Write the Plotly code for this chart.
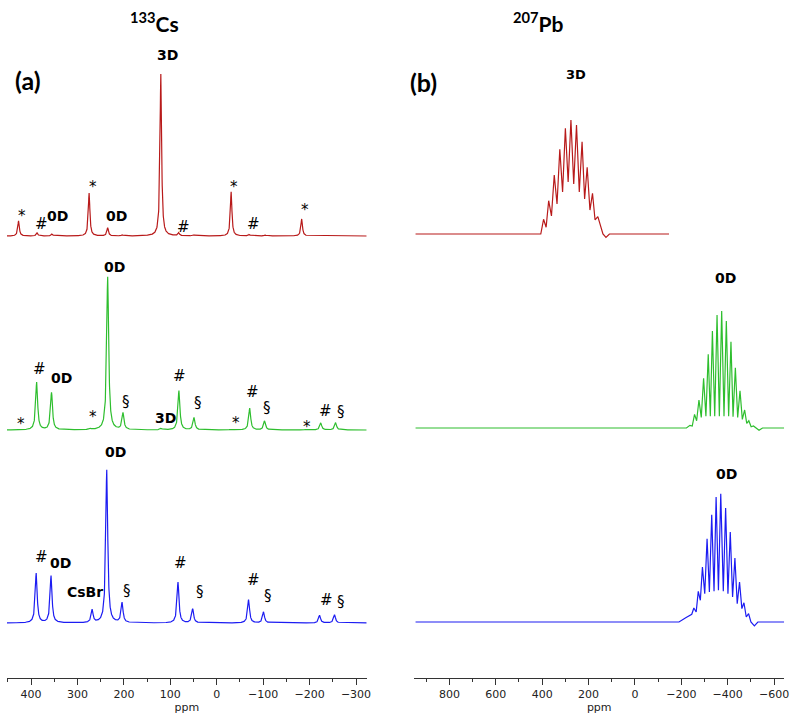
import numpy as np
import plotly.graph_objects as go

# ---------------- 133Cs spectra: peak tables ----------------
cs_red_pos = [427, 387, 355, 275, 235, 204, 120.5, 82, 50, -31, -70, -104, -183]
cs_red_int = [0.093, 0.019, 0.012, 0.265, 0.05, 0.006, 1.0, 0.019, 0.006, 0.272, 0.009, 0.006, 0.105]
cs_red_fwhm = 4.0

cs_green_pos = [421, 388, 356, 273, 235, 202, 120, 81.5, 49, -32, -71, -103, -192, -224, -256]
cs_green_int = [0.004, 0.312, 0.244, 0.007, 1.0, 0.109, 0.01, 0.257, 0.08, 0.005, 0.142, 0.059, 0.004, 0.046, 0.048]
cs_green_fwhm = 5.0

cs_blue_pos = [389, 357, 268.5, 237, 204, 83.5, 52, -68.6, -100.7, -221.5, -253.7]
cs_blue_int = [0.325, 0.307, 0.083, 1.0, 0.131, 0.266, 0.092, 0.152, 0.072, 0.05, 0.054]
cs_blue_fwhm = 5.0

cs_ppm_range = [452, -323]

# ---------------- 207Pb spectra: peak / valley points ----------------
pb_red_ppm = [946, 406, 394, 383, 372, 360, 348, 336, 324, 312, 300, 288, 276, 264, 252,
              240, 228, 217, 206, 194, 183, 172, 160, 138, 125, 110, -147]
pb_red_int = [0, 0, 0.129, 0.059, 0.292, 0.158, 0.518, 0.263, 0.743, 0.368, 0.927, 0.456, 1.0, 0.439, 0.956,
              0.368, 0.81, 0.307, 0.585, 0.21, 0.357, 0.123, 0.152, 0, -0.03, 0, 0]

pb_green_ppm = [946, -222, -237, -247, -257, -266, -276, -286, -296, -306, -316, -325, -334, -344,
                -354, -364, -374, -384, -394, -404, -414, -423, -433, -443, -453, -463, -473, -482,
                -491, -501, -511, -522, -535, -550, -644]
pb_green_int = [0, 0, 0.023, 0.017, 0.117, 0.062, 0.239, 0.091, 0.425, 0.1, 0.63, 0.1, 0.829, 0.1,
                0.966, 0.1, 1.0, 0.1, 0.915, 0.1, 0.738, 0.097, 0.515, 0.091, 0.319, 0.074, 0.154, 0.04,
                0.062, 0.011, 0.017, 0, -0.02, 0, 0]

pb_blue_ppm = [946, -190, -219, -233, -245, -254, -264, -273, -282, -291, -301, -311, -321, -331,
               -341, -350, -360, -370, -381, -391, -401, -411, -421, -431, -441, -451, -461, -470,
               -480, -490, -500, -515, -530, -644]
pb_blue_int = [0, 0, 0.034, 0.05, 0.06, 0.109, 0.078, 0.239, 0.169, 0.429, 0.221, 0.649, 0.234, 0.836,
               0.239, 0.974, 0.247, 1.0, 0.239, 0.888, 0.221, 0.701, 0.195, 0.499, 0.143, 0.312, 0.104, 0.15,
               0.039, 0.065, 0.0, -0.03, 0, 0]

pb_ppm_range = [951, -643]

# ---------------- Peak labels ----------------
cs_red_labels = ["*", "#", "<b>0D</b>", "*", "<b>0D</b>", "<b>3D</b>", "#", "*", "#", "*"]
cs_red_label_ppm = [420, 378, 343, 266, 216, 107, 72, -38, -79, -191]
cs_red_label_y = [0.146, 0.074, 0.123, 0.325, 0.123, 1.117, 0.057, 0.325, 0.074, 0.185]

cs_green_labels = ["*", "#", "<b>0D</b>", "*", "<b>0D</b>", "§", "<b>3D</b>", "#", "§", "*", "#", "§", "*", "#", "§"]
cs_green_label_ppm = [421, 382, 334, 266, 221, 196, 111, 80, 41, -41, -77, -109, -194, -234, -267]
cs_green_label_y = [0.065, 0.399, 0.338, 0.109, 1.067, 0.185, 0.076, 0.353, 0.178, 0.07, 0.246, 0.146, 0.044, 0.124, 0.116]

cs_blue_labels = ["#", "<b>0D</b>", "<b>CsBr</b>", "<b>0D</b>", "§", "#", "§", "#", "§", "#", "§"]
cs_blue_label_ppm = [378, 336, 284, 218, 194, 78, 37, -79, -111, -236, -268]
cs_blue_label_y = [0.433, 0.39, 0.2, 1.12, 0.211, 0.39, 0.2, 0.281, 0.178, 0.15, 0.139]

pb_labels = ["<b>3D</b>", "<b>0D</b>", "<b>0D</b>"]
pb_label_ppm = [253, -390, -394]
pb_label_y = [1.395, 1.28, 1.151]

# ---------------- Styling / layout constants ----------------
W, H = 800, 723
RED, GREEN, BLUE = "#B81A1A", "#2EBE2E", "#1C1CF2"
YLO = -0.2
# (baseline pixel, pixels per unit intensity, upper range) for each row axis
rows = {
    "y": (236, 162, 1.2), "y2": (430, 153, 1.2), "y3": (623, 153, 1.2),
    "y4": (234, 114, 1.55), "y5": (428, 117, 1.5), "y6": (622, 128.3, 1.4),
}


def domain(b, s, hi):
    return [1 - (b - YLO * s) / H, 1 - (b - hi * s) / H]


def lorentz_sum(x, pos, amp, fwhm):
    g = fwhm / 2.0
    y = np.zeros_like(x)
    for p, a in zip(pos, amp):
        y += a / (1 + ((x - p) / g) ** 2)
    return y


cs_x = np.arange(cs_ppm_range[1], cs_ppm_range[0] + 0.001, 0.25)

fig = go.Figure()
for pos, amp, fw, col, ya in [
    (cs_red_pos, cs_red_int, cs_red_fwhm, RED, "y"),
    (cs_green_pos, cs_green_int, cs_green_fwhm, GREEN, "y2"),
    (cs_blue_pos, cs_blue_int, cs_blue_fwhm, BLUE, "y3"),
]:
    fig.add_trace(go.Scatter(x=cs_x, y=lorentz_sum(cs_x, pos, amp, fw), mode="lines",
                             line=dict(color=col, width=1.2), xaxis="x", yaxis=ya,
                             hoverinfo="skip"))

for xs, ys, col, ya in [
    (pb_red_ppm, pb_red_int, RED, "y4"),
    (pb_green_ppm, pb_green_int, GREEN, "y5"),
    (pb_blue_ppm, pb_blue_int, BLUE, "y6"),
]:
    fig.add_trace(go.Scatter(x=xs, y=ys, mode="lines", line=dict(color=col, width=1.2),
                             xaxis="x2", yaxis=ya, hoverinfo="skip"))

LBL_FONT = "DejaVu Sans"
annotations = []


def add_labels(texts, xs, ys, xref, yref):
    for t, xv, yv in zip(texts, xs, ys):
        bold = t.startswith("<b>")
        shift = -4 if t == "*" else 0
        annotations.append(dict(text=t, x=xv, y=yv, xref=xref, yref=yref, showarrow=False,
                                xanchor="center", yanchor="middle", yshift=shift,
                                font=dict(family=LBL_FONT, size=14 if bold else 15, color="black")))


add_labels(cs_red_labels, cs_red_label_ppm, cs_red_label_y, "x", "y")
add_labels(cs_green_labels, cs_green_label_ppm, cs_green_label_y, "x", "y2")
add_labels(cs_blue_labels, cs_blue_label_ppm, cs_blue_label_y, "x", "y3")
for t, xv, yv, ya, sz in zip(pb_labels, pb_label_ppm, pb_label_y, ["y4", "y5", "y6"], [13, 14, 14]):
    annotations.append(dict(text=t, x=xv, y=yv, xref="x2", yref=ya, showarrow=False,
                            xanchor="center", yanchor="middle",
                            font=dict(family=LBL_FONT, size=sz, color="black")))

TITLE_FONT = "Lato"
for t, px, py, sz in [("<b><sup>133</sup>Cs</b>", 155, 22, 21),
                      ("<b><sup>207</sup>Pb</b>", 542, 22, 21),
                      ("<b>(a)</b>", 28, 80, 25),
                      ("<b>(b)</b>", 426, 82, 25)]:
    annotations.append(dict(text=t, x=px / W, y=1 - py / H, xref="paper", yref="paper",
                            xanchor="center", yanchor="middle", showarrow=False,
                            font=dict(family=TITLE_FONT, size=sz, color="black")))

axis_common = dict(
    showline=True, linecolor="#333333", linewidth=1, ticks="outside", ticklen=6,
    tickcolor="#333333", tickwidth=1, showgrid=False, zeroline=False,
    tickfont=dict(family="DejaVu Sans", size=11, color="#222222"),
    anchor="free", position=1 - 678 / H,
    title=dict(text="ppm", font=dict(family="DejaVu Sans", size=11, color="#222222"), standoff=0),
)

layout = dict(
    width=W, height=H, margin=dict(l=0, r=0, t=0, b=0),
    paper_bgcolor="white", plot_bgcolor="white", showlegend=False,
    xaxis=dict(domain=[7 / W, 369 / W], range=cs_ppm_range, tick0=0, dtick=100,
               minor=dict(dtick=50, ticklen=3, ticks="outside", tickcolor="#333333"), **axis_common),
    xaxis2=dict(domain=[417 / W, 789 / W], range=pb_ppm_range, tick0=0, dtick=200,
                minor=dict(dtick=100, ticklen=3, ticks="outside", tickcolor="#333333"), **axis_common),
    annotations=annotations,
)
for name, (b, s, hi) in rows.items():
    key = "yaxis" if name == "y" else "yaxis" + name[1:]
    layout[key] = dict(domain=domain(b, s, hi), range=[YLO, hi], visible=False,
                       anchor="x" if name in ("y", "y2", "y3") else "x2")

fig.update_layout(**layout)
fig.write_html("out.html", config={"displayModeBar": False, "staticPlot": True},
               post_script="document.body.style.margin='0';document.body.style.overflow='hidden';")
